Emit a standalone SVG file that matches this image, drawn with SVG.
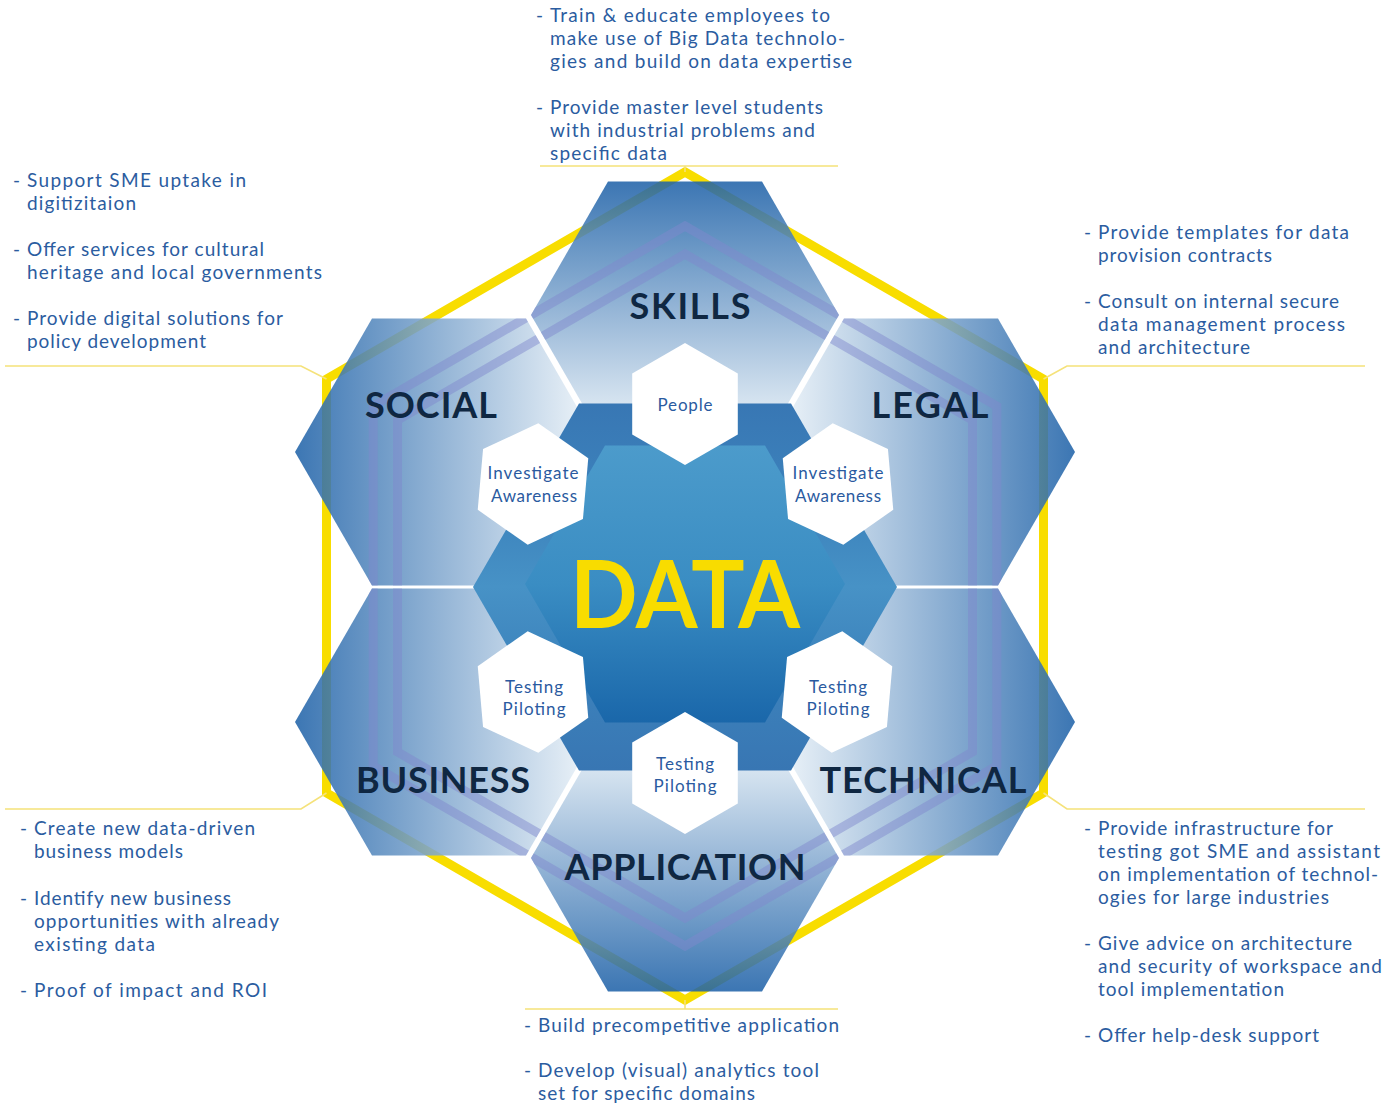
<svg xmlns="http://www.w3.org/2000/svg" width="1386" height="1106" viewBox="0 0 1386 1106">
<style>
.lst{font-family:"Lato","Liberation Sans",sans-serif;font-size:19px;fill:#2b5ca0;}
.big{font-family:"Lato","Liberation Sans",sans-serif;font-size:36px;font-weight:700;fill:#0f2742;text-anchor:middle;}
.sm{font-family:"Lato","Liberation Sans",sans-serif;font-size:17px;fill:#2a5aa0;text-anchor:middle;}
.lead{fill:none;stroke:#f5e27a;stroke-width:1.6;}
.hx{fill-opacity:0.87;}
.wh{fill:#ffffff;}
</style>
<defs>
<linearGradient id="gTop" x1="0" y1="0" x2="0" y2="1"><stop offset="0" stop-color="#1f62a8"/><stop offset="1" stop-color="#f4f9fc"/></linearGradient>
<linearGradient id="gBot" x1="0" y1="1" x2="0" y2="0"><stop offset="0" stop-color="#1f62a8"/><stop offset="1" stop-color="#f4f9fc"/></linearGradient>
<linearGradient id="gLeft" x1="0" y1="0" x2="1" y2="0"><stop offset="0" stop-color="#1f62a8"/><stop offset="1" stop-color="#f4f9fc"/></linearGradient>
<linearGradient id="gRight" x1="1" y1="0" x2="0" y2="0"><stop offset="0" stop-color="#1f62a8"/><stop offset="1" stop-color="#f4f9fc"/></linearGradient>
<linearGradient id="gCore" x1="0" y1="0" x2="0" y2="1"><stop offset="0" stop-color="#4c9bcb"/><stop offset="0.5" stop-color="#3a8dc3"/><stop offset="1" stop-color="#1a67aa"/></linearGradient>
<linearGradient id="gRim" x1="0" y1="0" x2="0" y2="1"><stop offset="0" stop-color="#3877b4"/><stop offset="0.3" stop-color="#3d84bd"/><stop offset="0.5" stop-color="#4792c6"/><stop offset="0.7" stop-color="#3d84bd"/><stop offset="1" stop-color="#3876b3"/></linearGradient>
<polygon id="sh" points="0,-61 52.8,-30.5 52.8,30.5 0,61 -52.8,30.5 -52.8,-30.5"/>
<clipPath id="hexClip">
<polygon points="839,315 762,448.4 608,448.4 531,315 608,181.6 762,181.6"/>
<polygon points="1075,452 998,585.4 844,585.4 767,452 844,318.6 998,318.6"/>
<polygon points="1075,722 998,855.4 844,855.4 767,722 844,588.6 998,588.6"/>
<polygon points="839,858 762,991.4 608,991.4 531,858 608,724.6 762,724.6"/>
<polygon points="603,722 526,855.4 372,855.4 295,722 372,588.6 526,588.6"/>
<polygon points="603,452 526,585.4 372,585.4 295,452 372,318.6 526,318.6"/>
</clipPath>
</defs>
<rect width="1386" height="1106" fill="#ffffff"/>

<g id="frame">
<polygon points="685,172 1043.5,379 1043.5,793 685,1000 326.5,793 326.5,379" fill="none" stroke="#f8dd00" stroke-width="9"/>
</g>

<g id="connectors">
<path class="lead" d="M540,166 H838 M685,166 V172"/>
<path class="lead" d="M5,366 H301 L326.5,379"/>
<path class="lead" d="M1043.5,379 L1067,366 H1365"/>
<path class="lead" d="M5,809 H301 L326.5,793"/>
<path class="lead" d="M1043.5,793 L1067,809 H1365"/>
<path class="lead" d="M525,1009 H838 M685,1000 V1009"/>
</g>

<g id="skills"><polygon class="hx" fill="url(#gTop)" points="839,315 762,448.4 608,448.4 531,315 608,181.6 762,181.6"/></g>
<g id="legal"><polygon class="hx" fill="url(#gRight)" points="1075,452 998,585.4 844,585.4 767,452 844,318.6 998,318.6"/></g>
<g id="technical"><polygon class="hx" fill="url(#gRight)" points="1075,722 998,855.4 844,855.4 767,722 844,588.6 998,588.6"/></g>
<g id="application"><polygon class="hx" fill="url(#gBot)" points="839,858 762,991.4 608,991.4 531,858 608,724.6 762,724.6"/></g>
<g id="business"><polygon class="hx" fill="url(#gLeft)" points="603,722 526,855.4 372,855.4 295,722 372,588.6 526,588.6"/></g>
<g id="social"><polygon class="hx" fill="url(#gLeft)" points="603,452 526,585.4 372,585.4 295,452 372,318.6 526,318.6"/></g>

<g id="rings" clip-path="url(#hexClip)" fill="none" stroke="#8088cc" stroke-opacity="0.48" stroke-width="9">
<polygon points="685,226 996.8,406 996.8,766 685,946 373.2,766 373.2,406"/>
<polygon points="685,254 972.5,420 972.5,752 685,918 397.5,752 397.5,420"/>
</g>

<g id="data">
<polygon points="897,587 791,770.6 579,770.6 473,587 579,403.4 791,403.4" fill="url(#gRim)"/>
<polygon points="845,584 765,722.6 605,722.6 525,584 605,445.4 765,445.4" fill="url(#gCore)"/>
<text x="685" y="628" text-anchor="middle" font-family="Lato, 'Liberation Sans', sans-serif" font-weight="700" font-size="94" fill="#f8dc00" textLength="230" lengthAdjust="spacingAndGlyphs">DATA</text>
</g>

<g id="people"><use href="#sh" class="wh" transform="translate(685,404)"/><text class="sm" x="685" y="411" textLength="55">People</text></g>
<g id="investigate-left"><use href="#sh" class="wh" transform="translate(533,484) rotate(5)"/><text class="sm" x="533" y="479" textLength="91">Investigate</text><text class="sm" x="534" y="502" textLength="86">Awareness</text></g>
<g id="investigate-right"><use href="#sh" class="wh" transform="translate(838,484) rotate(-5)"/><text class="sm" x="838" y="479" textLength="91">Investigate</text><text class="sm" x="838" y="502" textLength="86">Awareness</text></g>
<g id="testing-left"><use href="#sh" class="wh" transform="translate(533,692) rotate(-5)"/><text class="sm" x="534" y="693" textLength="58">Testing</text><text class="sm" x="534" y="715" textLength="63">Piloting</text></g>
<g id="testing-right"><use href="#sh" class="wh" transform="translate(837,692) rotate(5)"/><text class="sm" x="838" y="693" textLength="58">Testing</text><text class="sm" x="838" y="715" textLength="63">Piloting</text></g>
<g id="testing-bottom"><use href="#sh" class="wh" transform="translate(685,773)"/><text class="sm" x="685" y="770" textLength="58">Testing</text><text class="sm" x="685" y="792" textLength="63">Piloting</text></g>

<g id="labels">
<text class="big" x="690" y="319" textLength="121">SKILLS</text>
<text class="big" x="431" y="418" textLength="132">SOCIAL</text>
<text class="big" x="930" y="418" textLength="117">LEGAL</text>
<text class="big" x="443" y="793" textLength="174">BUSINESS</text>
<text class="big" x="923" y="793" textLength="207">TECHNICAL</text>
<text class="big" x="685" y="880" textLength="241">APPLICATION</text>
</g>

<g id="notes-skills" class="lst">
<text x="536" y="22">-</text><text x="550" y="22" textLength="280">Train &amp; educate employees to</text>
<text x="550" y="45" textLength="295">make use of Big Data technolo-</text>
<text x="550" y="68" textLength="302">gies and build on data expertise</text>
<text x="536" y="114">-</text><text x="550" y="114" textLength="273">Provide master level students</text>
<text x="550" y="137" textLength="265">with industrial problems and</text>
<text x="550" y="160" textLength="117">specific data</text>
</g>

<g id="notes-social" class="lst">
<text x="13" y="187">-</text><text x="27" y="187" textLength="219">Support SME uptake in</text>
<text x="27" y="210" textLength="109">digitizitaion</text>
<text x="13" y="256">-</text><text x="27" y="256" textLength="237">Offer services for cultural</text>
<text x="27" y="279" textLength="295">heritage and local governments</text>
<text x="13" y="325">-</text><text x="27" y="325" textLength="256">Provide digital solutions for</text>
<text x="27" y="348" textLength="179">policy development</text>
</g>

<g id="notes-legal" class="lst">
<text x="1084" y="239">-</text><text x="1098" y="239" textLength="251">Provide templates for data</text>
<text x="1098" y="262" textLength="174">provision contracts</text>
<text x="1084" y="308">-</text><text x="1098" y="308" textLength="241">Consult on internal secure</text>
<text x="1098" y="331" textLength="247">data management process</text>
<text x="1098" y="354" textLength="152">and architecture</text>
</g>

<g id="notes-business" class="lst">
<text x="20" y="835">-</text><text x="34" y="835" textLength="221">Create new data-driven</text>
<text x="34" y="858" textLength="149">business models</text>
<text x="20" y="905">-</text><text x="34" y="905" textLength="197">Identify new business</text>
<text x="34" y="928" textLength="245">opportunities with already</text>
<text x="34" y="951" textLength="121">existing data</text>
<text x="20" y="997">-</text><text x="34" y="997" textLength="233">Proof of impact and ROI</text>
</g>

<g id="notes-technical" class="lst">
<text x="1084" y="835">-</text><text x="1098" y="835" textLength="235">Provide infrastructure for</text>
<text x="1098" y="858" textLength="282">testing got SME and assistant</text>
<text x="1098" y="881" textLength="280">on implementation of technol-</text>
<text x="1098" y="904" textLength="231">ogies for large industries</text>
<text x="1084" y="950">-</text><text x="1098" y="950" textLength="254">Give advice on architecture</text>
<text x="1098" y="973" textLength="284">and security of workspace and</text>
<text x="1098" y="996" textLength="186">tool implementation</text>
<text x="1084" y="1042">-</text><text x="1098" y="1042" textLength="221">Offer help-desk support</text>
</g>

<g id="notes-application" class="lst">
<text x="524" y="1032">-</text><text x="538" y="1032" textLength="301">Build precompetitive application</text>
<text x="524" y="1077">-</text><text x="538" y="1077" textLength="281">Develop (visual) analytics tool</text>
<text x="538" y="1100" textLength="217">set for specific domains</text>
</g>
</svg>
